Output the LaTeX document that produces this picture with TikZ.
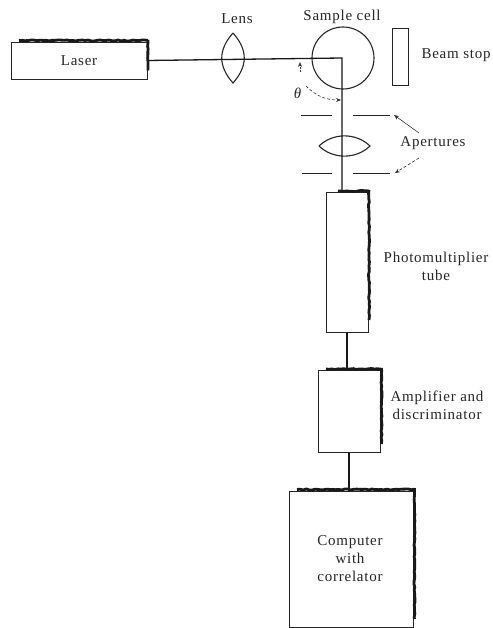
\documentclass[tikz,border=0pt]{standalone}
\usepackage{fontspec}
\setmainfont[LetterSpace=5]{Liberation Serif}
\usetikzlibrary{calc,arrows.meta,decorations.pathmorphing}
\pgfmathsetseed{7}
\tikzset{
  x=1pt,y=-1pt,
  unit box/.style={draw=black!85,line width=0.8pt,minimum width=#1,inner sep=0pt,outer sep=0pt},
  heavy/.style={line width=2.8pt,black!90,line cap=butt,decorate,decoration={random steps,segment length=3pt,amplitude=0.5pt}},
  beam/.style={line width=1.3pt,black!90},
  wire/.style={line width=1.6pt,black!90},
  optic/.style={line width=1.1pt,black!85},
  stop/.style={line width=0.8pt,black!85},
  lab/.style={font=\fontsize{15}{18}\selectfont,text=black!85,inner sep=0pt,align=center},
  pointer/.style={line width=0.6pt,black!80,-{Stealth[length=5pt,width=4pt]}},
}
\begin{document}
\begin{tikzpicture}
\useasboundingbox (0,0) rectangle (492,628);
\fill[white] (0,0) rectangle (492,628);
% boxes
\node[unit box=136pt,minimum height=37pt] (laser) at (79,60.5) {};
\node[unit box=42pt,minimum height=140pt] (pmt) at (347,262) {};
\node[unit box=62pt,minimum height=82pt] (amp) at (349,411) {};
\node[unit box=124pt,minimum height=136pt] (comp) at (351,559) {};
\node[draw=black!85,line width=0.8pt,minimum width=16pt,minimum height=57pt,inner sep=0pt,outer sep=0pt] (stopbox) at (400,56.5) {};
\node[circle,draw=black!85,line width=1.1pt,minimum size=62pt,inner sep=0pt] (cell) at (343,58) {};
% heavy edges
\draw[heavy] ($(laser.north west)+(8,-1.5)$) -- ($(laser.north east)+(1,-1.5)$);
\draw[heavy] ($(laser.north east)+(1,-2)$) -- ($(laser.east)+(1,10)$);
\draw[heavy] ($(pmt.north west)+(12,-1)$) -- ($(pmt.north east)+(1,-1)$);
\draw[heavy] ($(pmt.north east)+(1,-2)$) -- ($(pmt.south east)+(1,-12)$);
\draw[heavy] ($(amp.north west)+(8,-1)$) -- ($(amp.north east)+(1,-1)$);
\draw[heavy] ($(amp.north east)+(1.5,-2)$) -- ($(amp.south east)+(1.5,-8)$);
\draw[heavy] ($(comp.north west)+(8,-1.5)$) -- ($(comp.north east)+(1,-1.5)$);
\draw[heavy] ($(comp.north east)+(1.5,-3)$) -- ($(comp.south east)+(1.5,-8)$);
% lenses and apertures
\coordinate (lensT) at (233,33);
\coordinate (lensB) at (233,83);
\draw[optic] (lensT) .. controls (218,50) and (218,66) .. (lensB) .. controls (248,66) and (248,50) .. (lensT);
\coordinate (lensL) at (319,146);
\coordinate (lensR) at (370,146);
\draw[optic] (lensL) .. controls (333,132.5) and (356,132.5) .. (lensR) .. controls (356,159.5) and (333,159.5) .. (lensL);
\coordinate (a1) at (301,115.5); \coordinate (a2) at (332,115.5);
\coordinate (a3) at (353,115.5); \coordinate (a4) at (390,115.5);
\coordinate (b1) at (302,173.5); \coordinate (b2) at (332,173.5);
\coordinate (b3) at (353,173.5); \coordinate (b4) at (390,173.5);
\draw[stop] (a1) -- (a2) (a3) -- (a4) (b1) -- (b2) (b3) -- (b4);
% beam
\coordinate (corner) at (342,58);
\draw[beam] (laser.east) -- (corner) -- (pmt.north -| corner);
\draw[wire] (pmt.south) -- (amp.north -| pmt.south);
\draw[wire] (amp.south) -- (comp.north -| amp.south);
% angle
\coordinate (t1) at (300,72);
\coordinate (t2) at (300,62);
\coordinate (t3) at (306,86);
\coordinate (t4) at (341,100);
\draw[pointer,densely dotted] (t1) -- (t2);
\draw[pointer,densely dashed] (t3) .. controls (316,96) and (326,100) .. (t4);
% aperture pointers
\coordinate (p0) at (419,133);
\coordinate (p1) at (394,115);
\coordinate (p2) at (419,158);
\coordinate (p3) at (395,173);
\draw[pointer] (p0) -- (p1);
\draw[pointer,densely dashed] (p2) -- (p3);
% labels
\node[lab] (tlaser) at (79,61) {Laser};
\node[lab] (tlens) at (237,19) {Lens};
\node[lab] (tcell) at (342,17) {Sample cell};
\node[lab] (tstop) at (456,55) {Beam stop};
\node[lab] (ttheta) at (298,93) {\textit{θ}};
\node[lab] (tap) at (433,143) {Apertures};
\node[lab] (tpm) at (436,266) {Photomultiplier\\tube};
\node[lab] (tamp) at (437,405) {Amplifier and\\discriminator};
\node[lab] (tcomp) at (350,558.5) {Computer\\with\\correlator};
\end{tikzpicture}
\end{document}
